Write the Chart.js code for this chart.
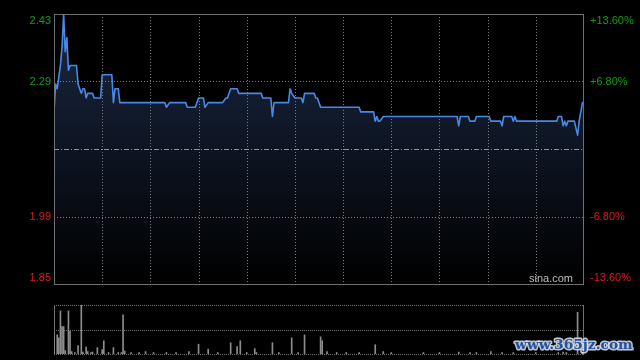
<!DOCTYPE html>
<html><head><meta charset="utf-8">
<script src="https://cdn.jsdelivr.net/npm/chart.js@4"></script>
<style>
html,body{margin:0;padding:0;background:#000;width:640px;height:360px;overflow:hidden}
canvas{position:absolute;left:0;top:0}
</style></head><body>
<canvas id="p" width="640" height="360"></canvas>
<canvas id="v" width="640" height="360"></canvas>
<script>
// ---- data ----
const prevClose = 2.14;
const rangePct = 0.136;
const sessionMinutes = 330; // HK trading day, 9:30-12:00 & 13:00-16:00
const timeGrid = [30,60,90,120,150,180,210,240,270,300];
const priceMinutes = [0,1,2,4,5,6,7,8,9,10,14,15,16,17,18,19,20,21,24,25,29,30,36,37,38,40,41,69,70,72,82,83,88,90,93,94,96,105,107,108,110,114,115,129,130,135,136,137,146,147,148,150,154,155,156,162,163,164,166,190,191,199,200,201,202,203,205,251,252,253,258,259,262,263,271,272,278,279,280,285,286,287,288,313,314,316,317,318,319,320,324,326,327,329,330];
const prices = [2.22,2.28,2.27,2.32,2.36,2.43,2.35,2.38,2.31,2.32,2.32,2.28,2.27,2.26,2.27,2.27,2.25,2.26,2.26,2.25,2.25,2.30,2.30,2.24,2.27,2.27,2.24,2.24,2.23,2.24,2.24,2.23,2.23,2.25,2.25,2.23,2.24,2.24,2.25,2.25,2.27,2.27,2.26,2.26,2.25,2.25,2.21,2.24,2.24,2.27,2.26,2.25,2.25,2.24,2.26,2.26,2.25,2.25,2.23,2.23,2.22,2.22,2.20,2.21,2.20,2.20,2.21,2.21,2.19,2.21,2.21,2.20,2.20,2.21,2.21,2.20,2.20,2.19,2.21,2.21,2.20,2.21,2.20,2.20,2.21,2.21,2.19,2.20,2.19,2.20,2.20,2.17,2.20,2.24,2.24];
const volMinutes = [0,2,3,4,5,6,7,9,10,11,13,15,17,18,20,21,23,24,27,30,31,34,37,40,42,43,44,48,53,57,62,70,76,84,90,96,102,110,114,116,120,125,126,136,140,148,152,156,166,167,170,176,182,190,200,205,210,230,240,252,259,263,272,279,286,300,314,317,319,326,329];
const volumes = [44,39,33,88,56,56,7,88,47,5,3,17,100,4,14,5,3,4,13,9,27,3,13,3,3,80,6,3,3,5,3,3,3,5,20,10,3,23,15,27,3,11,3,23,3,33,3,39,35,27,5,3,3,3,19,5,3,3,3,4,3,3,5,3,3,3,3,4,3,85,4];
const leftTickLabels = ['2.43','2.29','1.99','1.85'];
const rightTickLabels = ['+13.60%','+6.80%','-6.80%','-13.60%'];
const tickPct = [0.136,0.068,-0.068,-0.136];

const yMax = prevClose*(1+rangePct), yMin = prevClose*(1-rangePct);
const FONT = '11px "Liberation Sans", Arial, sans-serif';
const GREEN = '#10a010', RED = '#dc1c1c';

function hline(ctx,x1,x2,y){ctx.beginPath();ctx.moveTo(x1,y);ctx.lineTo(x2,y);ctx.stroke();}
function vline(ctx,x,y1,y2){ctx.beginPath();ctx.moveTo(x,y1);ctx.lineTo(x,y2);ctx.stroke();}

const priceDecor = {
  id:'priceDecor',
  afterDatasetsDraw(chart){
    const {ctx, chartArea:a, scales:{x,y}} = chart;
    ctx.save();
    ctx.lineWidth = 1;
    ctx.strokeStyle = '#7c7c7c';
    ctx.setLineDash([1,2]);
    timeGrid.forEach(m=>{ const px=Math.round(x.getPixelForValue(m))+0.5; vline(ctx,px,a.top,a.bottom); });
    [tickPct[1],tickPct[2]].forEach(p=>{ const py=Math.round(y.getPixelForValue(prevClose*(1+p)))+0.5; hline(ctx,a.left,a.right,py); });
    ctx.strokeStyle = '#8d96a3';
    ctx.setLineDash([5,2,1,2]);
    hline(ctx,a.left,a.right,Math.round(y.getPixelForValue(prevClose))+0.5);
    ctx.setLineDash([]);
    ctx.strokeStyle = '#707070';
    ctx.strokeRect(a.left+0.5,a.top+0.5,a.right-a.left-1,a.bottom-a.top);
    ctx.font = FONT;
    ctx.textBaseline = 'middle';
    tickPct.forEach((p,i)=>{
      let py = y.getPixelForValue(prevClose*(1+p));
      if(i===0) py += 6.5;
      if(i===tickPct.length-1) py -= 6;
      ctx.fillStyle = p>0?GREEN:RED;
      ctx.textAlign='right'; ctx.fillText(leftTickLabels[i], a.left-3, py);
      ctx.textAlign='left'; ctx.fillText(rightTickLabels[i], a.right+6, py);
    });
    ctx.fillStyle = '#bdbdbd';
    ctx.textAlign='right';
    ctx.fillText('sina.com', a.right-11, a.bottom-5);
    ctx.restore();
  }
};

new Chart(document.getElementById('p'),{
  type:'line',
  data:{datasets:[{
    data: priceMinutes.map((m,i)=>({x:m,y:prices[i]})),
    borderColor:'#4a88e6', borderWidth:1.6, pointRadius:0, tension:0,
    borderJoinStyle:'round',
    fill:'start',
    backgroundColor:(c)=>{
      const a=c.chart.chartArea; if(!a) return 'rgba(20,30,50,0.6)';
      const g=c.chart.ctx.createLinearGradient(0,a.top,0,a.bottom);
      g.addColorStop(0,'#1b2944'); g.addColorStop(1,'#000000'); return g;
    }
  }]},
  options:{
    responsive:false, animation:false, events:[],
    layout:{padding:{left:54,right:56,top:14,bottom:76}},
    plugins:{legend:{display:false},tooltip:{enabled:false}},
    scales:{
      x:{type:'linear',min:0,max:sessionMinutes,display:false},
      y:{min:yMin,max:yMax,display:false}
    }
  },
  plugins:[priceDecor]
});

const volDecor = {
  id:'volDecor',
  beforeDatasetsDraw(chart){
    const {ctx, chartArea:a, scales:{y}} = chart;
    ctx.save();
    ctx.lineWidth=1;
    ctx.strokeStyle='#6e6e6e';
    ctx.setLineDash([1,1]);
    [100,50,0].forEach(v=>{ const py=Math.round(y.getPixelForValue(v))+0.5; hline(ctx,a.left,a.right,py); });
    ctx.setLineDash([]);
    ctx.strokeStyle='#707070';
    vline(ctx,a.left+0.5,a.top,a.bottom+1);
    vline(ctx,a.right-0.5,a.top,a.bottom+1);
    ctx.restore();
  },
  afterDraw(chart){
    const ctx=chart.ctx;
    ctx.save();
    let size=16;
    const txt='www.365jz.com';
    ctx.font='bold '+size+'px "DejaVu Serif", serif';
    const w=ctx.measureText(txt).width;
    size=size*118/w;
    ctx.font='bold '+size.toFixed(1)+'px "DejaVu Serif", serif';
    ctx.textAlign='left'; ctx.textBaseline='middle';
    ctx.lineJoin='round';
    ctx.strokeStyle='rgba(225,232,245,0.85)'; ctx.lineWidth=3;
    ctx.strokeText(txt,515,345);
    ctx.fillStyle='#24529e';
    ctx.fillText(txt,515,345);
    ctx.restore();
  }
};

new Chart(document.getElementById('v'),{
  type:'bar',
  data:{datasets:[{
    data: volMinutes.map((m,i)=>({x:m,y:volumes[i]})),
    backgroundColor:'#8c8c8c', barThickness:1, borderWidth:0
  }]},
  options:{
    responsive:false, animation:false, events:[],
    layout:{padding:{left:54,right:56,top:305,bottom:6}},
    plugins:{legend:{display:false},tooltip:{enabled:false}},
    scales:{
      x:{type:'linear',min:0,max:sessionMinutes,offset:false,display:false},
      y:{min:0,max:100,display:false}
    }
  },
  plugins:[volDecor]
});
</script>
</body></html>
